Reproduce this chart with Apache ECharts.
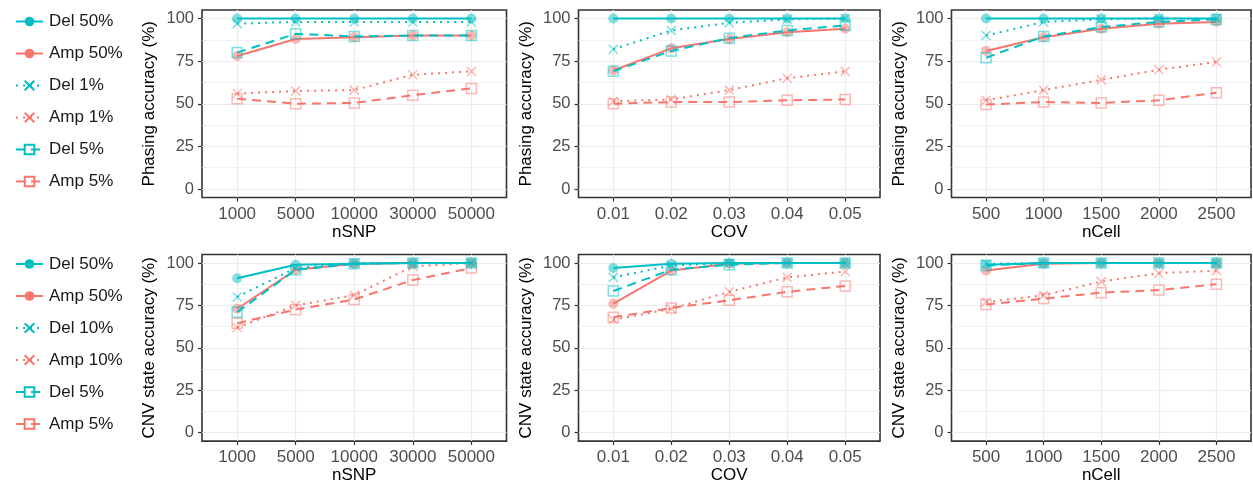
<!DOCTYPE html>
<html lang="en">

<head>
    <meta charset="UTF-8">
    <title>Phasing / CNV state accuracy</title>
    <script src="https://cdn.jsdelivr.net/npm/echarts@6/dist/echarts.min.js"></script>
    <style>
        body { margin: 0; background: #fff; }
    </style>
</head>

<body>
    <div id="main" style="width: 1253px;height:485px;"></div>
    <script type="text/javascript">
        // x categories
        var nSNP = ['1000', '5000', '10000', '30000', '50000'];
        var cov = ['0.01', '0.02', '0.03', '0.04', '0.05'];
        var nCell = ['500', '1000', '1500', '2000', '2500'];
        var yTicks = [0, 25, 50, 75, 100];
        var yMinor = [12.5, 37.5, 62.5, 87.5];

        // series names, top row / bottom row
        var phasingNames = ['Del 50%', 'Amp 50%', 'Del 1%', 'Amp 1%', 'Del 5%', 'Amp 5%'];
        var cnvNames = ['Del 50%', 'Amp 50%', 'Del 10%', 'Amp 10%', 'Del 5%', 'Amp 5%'];

        // phasing accuracy, rows in the order of phasingNames
        var phasingSNP = [
            [100, 100, 100, 100, 100],
            [78, 88, 89, 90, 90],
            [97, 98, 98, 98, 98],
            [56, 57.5, 58, 67, 69],
            [80, 91, 89.5, 90, 90],
            [53, 50, 50.5, 55, 59]
        ];
        var phasingCOV = [
            [100, 100, 100, 100, 100],
            [69.5, 82.5, 88, 92, 94],
            [82, 93, 97.5, 99.5, 100],
            [51.5, 52.5, 58, 65, 69],
            [69, 81, 88.5, 93, 96],
            [50, 51, 51, 52, 52.5]
        ];
        var phasingCell = [
            [100, 100, 100, 100, 100],
            [81, 89, 94, 97, 98],
            [90, 98, 99.5, 100, 100],
            [52, 58, 64, 70, 74.5],
            [77, 89.5, 95, 98, 99.5],
            [49.5, 51, 50.5, 52, 56.5]
        ];

        // CNV state accuracy, rows in the order of cnvNames
        var cnvSNP = [
            [91, 99, 99.5, 100, 100],
            [73, 96, 99.5, 100, 100],
            [80, 97, 100, 100, 100],
            [62, 75, 81, 98, 100],
            [71, 96, 99.5, 100, 100],
            [64.5, 72.5, 78.5, 90, 97]
        ];
        var cnvCOV = [
            [97, 99.5, 100, 100, 100],
            [76, 95.5, 99.5, 100, 100],
            [91.5, 98.5, 100, 100, 100],
            [66.5, 73, 83, 91.5, 95],
            [83.5, 96, 99, 100, 100],
            [68, 73.5, 78, 83, 86.5]
        ];
        var cnvCell = [
            [99, 100, 100, 100, 100],
            [95.5, 99.5, 100, 100, 100],
            [99.5, 100, 100, 100, 100],
            [77, 81, 89, 94, 95.5],
            [98.5, 100, 100, 100, 100],
            [75.5, 79, 82.5, 84, 87.5]
        ];

        var TEAL = '#00BFC4';
        var SALMON = '#F8766D';
        var FONT = 'Liberation Sans, Arial, sans-serif';

        // look of each row: solid+circle, dotted+x, dashed+open square
        var styles = [
            { color: TEAL, dash: 'solid', symbol: 'circle', size: 10, fill: true },
            { color: SALMON, dash: 'solid', symbol: 'circle', size: 10, fill: true },
            { color: TEAL, dash: [2, 5], symbol: 'path://M0,0L10,10M10,0L0,10', size: 9, fill: false },
            { color: SALMON, dash: [2, 5], symbol: 'path://M0,0L10,10M10,0L0,10', size: 9, fill: false },
            { color: TEAL, dash: [9, 6], symbol: 'rect', size: 10, fill: false },
            { color: SALMON, dash: [9, 6], symbol: 'rect', size: 10, fill: false }
        ];

        var panels = [
            { cats: nSNP, rows: phasingSNP, names: phasingNames, xName: 'nSNP', yName: 'Phasing accuracy (%)' },
            { cats: cov, rows: phasingCOV, names: phasingNames, xName: 'COV', yName: 'Phasing accuracy (%)' },
            { cats: nCell, rows: phasingCell, names: phasingNames, xName: 'nCell', yName: 'Phasing accuracy (%)' },
            { cats: nSNP, rows: cnvSNP, names: cnvNames, xName: 'nSNP', yName: 'CNV state accuracy (%)' },
            { cats: cov, rows: cnvCOV, names: cnvNames, xName: 'COV', yName: 'CNV state accuracy (%)' },
            { cats: nCell, rows: cnvCell, names: cnvNames, xName: 'nCell', yName: 'CNV state accuracy (%)' }
        ];

        var lefts = [202, 578.5, 951.5];
        var widths = [304.5, 301.5, 299.5];
        var tops = [10, 254.5];
        var heights = [187.5, 187];

        var grids = [], xAxes = [], yAxes = [], series = [];

        panels.forEach(function (p, gi) {
            var col = gi % 3, row = Math.floor(gi / 3);
            grids.push({
                left: lefts[col], top: tops[row], width: widths[col], height: heights[row],
                show: true, backgroundColor: '#fff', borderColor: '#333', borderWidth: 1.6
            });
            xAxes.push({
                type: 'value', gridIndex: gi, min: -0.6, max: 4.6,
                name: p.xName, nameLocation: 'middle', nameGap: 24,
                nameTextStyle: { color: '#000', fontSize: 17, fontFamily: FONT },
                axisLine: { show: false, onZero: false },
                axisTick: { show: true, length: 4, customValues: [0, 1, 2, 3, 4], lineStyle: { color: '#333', width: 1.2 } },
                axisLabel: {
                    customValues: [0, 1, 2, 3, 4], margin: 8, color: '#4D4D4D', fontSize: 17, fontFamily: FONT,
                    formatter: function (v) { return p.cats[Math.round(v)]; }
                },
                splitLine: { show: true, lineStyle: { color: '#EBEBEB', width: 1.2 } }
            });
            yAxes.push({
                type: 'value', gridIndex: gi, min: -5, max: 105,
                name: p.yName, nameLocation: 'middle', nameGap: 44,
                nameTextStyle: { color: '#000', fontSize: 17, fontFamily: FONT },
                axisLine: { show: false, onZero: false },
                axisTick: { show: true, length: 4, customValues: yTicks, lineStyle: { color: '#333', width: 1.2 } },
                axisLabel: { customValues: yTicks, margin: 8, color: '#4D4D4D', fontSize: 16.5, fontFamily: FONT },
                splitLine: { show: true, lineStyle: { color: '#EBEBEB', width: 1.2 } }
            });
            // hidden second y axis only for the minor horizontal grid lines
            yAxes.push({
                type: 'value', gridIndex: gi, min: -5, max: 105, position: 'left',
                axisLine: { show: false, onZero: false },
                axisTick: { show: false, customValues: yMinor },
                axisLabel: { show: false, customValues: yMinor },
                splitLine: { show: true, lineStyle: { color: '#EBEBEB', width: 0.7 } }
            });

            p.rows.forEach(function (vals, k) {
                var st = styles[k];
                series.push({
                    name: p.names[k], type: 'line', xAxisIndex: gi, yAxisIndex: gi * 2,
                    data: vals.map(function (v, i) { return [i, v]; }),
                    symbol: st.symbol, symbolSize: st.size,
                    z: st.color === TEAL ? 3 : 2,
                    lineStyle: { color: st.color, width: 2, type: st.dash },
                    itemStyle: st.fill
                        ? { color: st.color, opacity: 0.5 }
                        : { color: 'rgba(255,255,255,0)', borderColor: st.color, borderWidth: 1.5, opacity: 0.5 },
                    emphasis: { disabled: true }
                });
            });
        });

        var legendBase = {
            orient: 'vertical', left: 10, itemWidth: 27, itemHeight: 12, itemGap: 12,
            itemStyle: { opacity: 1 },
            textStyle: { fontSize: 17, lineHeight: 20, color: '#1a1a1a', fontFamily: FONT, padding: [0, 0, 0, 1] },
            selectedMode: false
        };

        var option = {
            animation: false,
            backgroundColor: '#fff',
            grid: grids,
            xAxis: xAxes,
            yAxis: yAxes,
            legend: [
                Object.assign({}, legendBase, { top: 6.5, data: phasingNames }),
                Object.assign({}, legendBase, { top: 249, data: cnvNames })
            ],
            series: series
        };

        var myChart = echarts.init(document.getElementById('main'));
        myChart.setOption(option);
    </script>
</body>

</html>
